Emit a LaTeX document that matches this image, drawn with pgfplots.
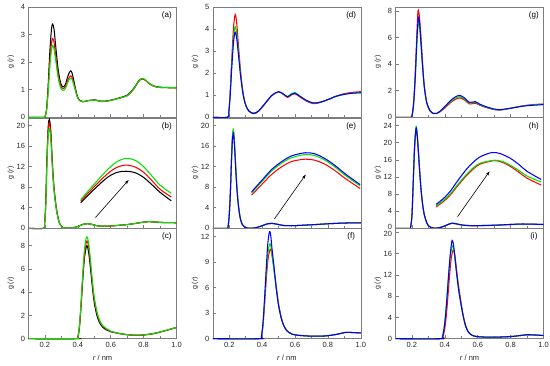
\documentclass[border=0pt]{standalone}
\usepackage{fontspec}
\setmainfont{Liberation Sans}
\usepackage{pgfplots}
\pgfplotsset{compat=1.18}
\usetikzlibrary{arrows.meta}
\definecolor{cgreen}{RGB}{0,225,0}
\definecolor{cred}{RGB}{255,0,0}
\definecolor{cblue}{RGB}{0,0,255}
\definecolor{axgray}{RGB}{125,125,125}
\tikzset{
 plab/.style={font=\fontsize{8}{9}\selectfont},
 arr/.style={-{Stealth[length=4.5pt,width=3pt]}, line width=0.6pt, black},
}
\pgfplotsset{
 panel/.style={
  scale only axis, width=148pt, height=110.5pt, anchor=south west,
  xmin=0.1, xmax=1.0, ymin=0,
  xtick={0.2,0.4,0.6,0.8,1.0}, minor xtick={0.1,0.3,0.5,0.7,0.9},
  xticklabels={},
  tick align=inside, xtick pos=bottom, ytick pos=left,
  major tick length=3.5pt, minor tick length=2.5pt,
  axis line style={axgray, line width=0.6pt},
  every tick/.style={axgray, line width=0.5pt},
  tick label style={font=\fontsize{7.5}{9}\selectfont, black!85, /pgf/number format/assume math mode=true},
  ylabel={g (\textit{r})},
  ylabel style={font=\fontsize{7}{8}\selectfont, black!85, at={(axis description cs:-0.12,0.5)}, anchor=center},
  clip=false,
  every axis plot/.append style={line width=1.05pt, smooth, mark=none},
 },
 bottomrow/.style={
  xticklabels={0.2,0.4,0.6,0.8,1.0},
  xlabel={\textit{r} / nm},
  xlabel style={font=\fontsize{7.5}{9}\selectfont, black!85, at={(axis description cs:0.5,-0.172)}, anchor=center},
 },
}
\begin{document}
\begin{tikzpicture}
\useasboundingbox (0,0) rectangle (550pt,365pt);
% ---------------- (a)
\begin{axis}[panel, at={(28.5pt,247.7pt)}, ymax=4, ytick={0,1,2,3,4}]
\addplot[black] coordinates {(0.1,0) (0.19,0) (0.2,0.02) (0.21,0.3) (0.22,1.2) (0.23,2.4) (0.24,3.2) (0.247,3.37) (0.255,3.2) (0.265,2.6) (0.28,1.75) (0.295,1.25) (0.31,1.1) (0.325,1.2) (0.34,1.5) (0.355,1.68) (0.365,1.6) (0.38,1.2) (0.395,0.8) (0.41,0.62) (0.43,0.57) (0.46,0.6) (0.5,0.63) (0.55,0.58) (0.6,0.62) (0.65,0.7) (0.7,0.8) (0.74,1.05) (0.77,1.32) (0.79,1.4) (0.81,1.35) (0.84,1.2) (0.87,1.12) (0.9,1.09) (0.95,1.08) (1.0,1.07)};
\addplot[cred] coordinates {(0.1,0) (0.19,0) (0.2,0.02) (0.21,0.28) (0.22,1.05) (0.23,2.05) (0.24,2.7) (0.247,2.85) (0.255,2.72) (0.265,2.25) (0.28,1.55) (0.295,1.15) (0.31,1.04) (0.325,1.12) (0.34,1.36) (0.355,1.5) (0.365,1.44) (0.38,1.12) (0.395,0.78) (0.41,0.61) (0.43,0.56) (0.46,0.6) (0.5,0.62) (0.55,0.57) (0.6,0.61) (0.65,0.69) (0.7,0.78) (0.74,1.02) (0.77,1.3) (0.79,1.38) (0.81,1.34) (0.84,1.19) (0.87,1.11) (0.9,1.08) (0.95,1.07) (1.0,1.06)};
\addplot[cgreen] coordinates {(0.1,0) (0.19,0) (0.2,0.02) (0.21,0.25) (0.22,0.95) (0.23,1.85) (0.24,2.45) (0.247,2.6) (0.255,2.48) (0.265,2.08) (0.28,1.45) (0.295,1.07) (0.31,0.97) (0.325,1.05) (0.34,1.28) (0.355,1.42) (0.365,1.37) (0.38,1.08) (0.395,0.76) (0.41,0.6) (0.43,0.56) (0.46,0.6) (0.5,0.62) (0.55,0.57) (0.6,0.61) (0.65,0.69) (0.7,0.78) (0.74,1.03) (0.77,1.31) (0.79,1.4) (0.81,1.36) (0.84,1.2) (0.87,1.11) (0.9,1.08) (0.95,1.07) (1.0,1.07)};
\node[plab] at (rel axis cs:0.935,0.925) {(a)};
\end{axis}
% ---------------- (b)
\begin{axis}[panel, at={(28.5pt,136.7pt)}, ymax=21.5, ytick={0,4,8,12,16,20}]
\addplot[black] coordinates {(0.1,0) (0.19,0) (0.198,1) (0.205,5) (0.212,13.5) (0.22,19.8) (0.227,21.2) (0.235,19.2) (0.244,13.5) (0.252,9.2) (0.26,6.4) (0.27,3.8) (0.283,1.6) (0.295,0.6) (0.31,0.15) (0.33,0.02) (0.36,0.05) (0.4,0.35) (0.43,0.75) (0.46,0.9) (0.49,0.72) (0.52,0.48) (0.56,0.4) (0.6,0.45) (0.65,0.58) (0.7,0.72) (0.75,0.95) (0.8,1.2) (0.83,1.3) (0.87,1.22) (0.92,1.12) (1.0,1.08)};
\addplot[cred] coordinates {(0.1,0) (0.19,0) (0.198,0.95) (0.205,4.8) (0.212,13.0) (0.22,19.1) (0.227,20.5) (0.235,18.6) (0.244,13.1) (0.252,8.9) (0.26,6.2) (0.27,3.7) (0.283,1.55) (0.295,0.58) (0.31,0.15) (0.33,0.02) (0.36,0.05) (0.4,0.35) (0.43,0.75) (0.46,0.9) (0.49,0.72) (0.52,0.48) (0.56,0.4) (0.6,0.45) (0.65,0.58) (0.7,0.72) (0.75,0.95) (0.8,1.2) (0.83,1.3) (0.87,1.22) (0.92,1.12) (1.0,1.08)};
\addplot[cgreen] coordinates {(0.1,0) (0.19,0) (0.198,0.9) (0.205,4.6) (0.212,12.4) (0.22,18.2) (0.227,19.4) (0.235,17.6) (0.244,12.4) (0.252,8.5) (0.26,5.9) (0.27,3.5) (0.283,1.5) (0.295,0.56) (0.31,0.15) (0.33,0.02) (0.36,0.05) (0.4,0.35) (0.43,0.75) (0.46,0.9) (0.49,0.72) (0.52,0.48) (0.56,0.4) (0.6,0.45) (0.65,0.58) (0.7,0.72) (0.75,0.95) (0.8,1.2) (0.83,1.3) (0.87,1.22) (0.92,1.12) (1.0,1.08)};
% inset (magnified second peak)
\addplot[black] coordinates {(0.418,5.0) (0.5,7.6) (0.58,9.9) (0.64,10.9) (0.695,11.1) (0.75,10.8) (0.8,9.9) (0.85,8.5) (0.9,7.0) (0.968,5.35)};
\addplot[cred] coordinates {(0.418,5.35) (0.5,8.1) (0.58,10.6) (0.64,11.9) (0.695,12.3) (0.75,11.9) (0.8,10.9) (0.85,9.3) (0.9,7.6) (0.968,6.1)};
\addplot[cgreen] coordinates {(0.418,5.6) (0.5,8.6) (0.58,11.4) (0.64,13.0) (0.695,13.6) (0.75,13.2) (0.8,12.0) (0.85,10.2) (0.9,8.4) (0.968,6.8)};
\draw[arr] (axis cs:0.507,2.1) -- (axis cs:0.709,9.4);
\node[plab] at (rel axis cs:0.935,0.925) {(b)};
\end{axis}
% ---------------- (c)
\begin{axis}[panel, bottomrow, at={(28.5pt,26.3pt)}, ymax=9.5, ytick={0,2,4,6,8}]
\addplot[black] coordinates {(0.1,0) (0.39,0) (0.4,0.1) (0.41,1.0) (0.42,2.9) (0.43,5.1) (0.44,6.9) (0.45,7.8) (0.456,8.0) (0.465,7.5) (0.475,6.3) (0.485,4.9) (0.495,3.6) (0.505,2.7) (0.52,1.8) (0.535,1.3) (0.55,1.0) (0.575,0.75) (0.6,0.6) (0.65,0.45) (0.7,0.35) (0.77,0.3) (0.85,0.42) (0.92,0.65) (1.0,0.97)};
\addplot[cred] coordinates {(0.1,0) (0.39,0) (0.4,0.1) (0.41,1.1) (0.42,3.0) (0.43,5.3) (0.44,7.2) (0.45,8.2) (0.456,8.4) (0.465,8.0) (0.475,6.8) (0.485,5.3) (0.495,3.9) (0.505,3.0) (0.52,2.0) (0.535,1.45) (0.55,1.1) (0.575,0.82) (0.6,0.63) (0.65,0.45) (0.7,0.34) (0.77,0.28) (0.85,0.4) (0.92,0.64) (1.0,0.97)};
\addplot[cgreen] coordinates {(0.1,0) (0.39,0) (0.4,0.1) (0.41,1.2) (0.42,3.2) (0.43,5.6) (0.44,7.6) (0.45,8.6) (0.456,8.75) (0.465,8.3) (0.475,7.0) (0.485,5.5) (0.495,4.1) (0.505,3.1) (0.52,2.1) (0.535,1.5) (0.55,1.15) (0.575,0.85) (0.6,0.65) (0.65,0.46) (0.7,0.35) (0.77,0.3) (0.85,0.42) (0.92,0.65) (1.0,0.97)};
\node[plab] at (rel axis cs:0.935,0.925) {(c)};
\end{axis}
% ---------------- (d)
\begin{axis}[panel, at={(212.8pt,247.7pt)}, ymax=5, ytick={0,1,2,3,4,5}]
\addplot[cred] coordinates {(0.1,0) (0.19,0) (0.197,0.22) (0.205,1.05) (0.215,2.6) (0.225,3.95) (0.232,4.5) (0.237,4.65) (0.245,4.3) (0.255,3.35) (0.27,2.0) (0.285,1.08) (0.3,0.57) (0.32,0.27) (0.35,0.16) (0.38,0.28) (0.42,0.63) (0.46,0.98) (0.5,1.15) (0.53,1.03) (0.555,0.9) (0.58,1.03) (0.6,1.07) (0.63,0.92) (0.67,0.73) (0.71,0.62) (0.75,0.66) (0.8,0.8) (0.85,0.96) (0.9,1.07) (0.95,1.13) (1.0,1.16)};
\addplot[cgreen] coordinates {(0.1,0) (0.19,0) (0.197,0.2) (0.205,0.95) (0.215,2.35) (0.225,3.5) (0.232,4.0) (0.237,4.1) (0.245,3.82) (0.255,3.05) (0.27,1.88) (0.285,1.03) (0.3,0.56) (0.32,0.28) (0.35,0.18) (0.38,0.3) (0.42,0.65) (0.46,1.0) (0.5,1.16) (0.53,1.05) (0.555,0.94) (0.58,1.08) (0.6,1.12) (0.63,0.96) (0.67,0.76) (0.71,0.65) (0.75,0.68) (0.8,0.8) (0.85,0.95) (0.9,1.04) (0.95,1.09) (1.0,1.11)};
\addplot[cblue] coordinates {(0.1,0) (0.19,0) (0.197,0.2) (0.205,0.9) (0.215,2.2) (0.225,3.3) (0.232,3.75) (0.237,3.85) (0.245,3.6) (0.255,2.9) (0.27,1.8) (0.285,1.0) (0.3,0.55) (0.32,0.28) (0.35,0.18) (0.38,0.3) (0.42,0.65) (0.46,1.0) (0.5,1.16) (0.53,1.05) (0.555,0.93) (0.58,1.05) (0.6,1.09) (0.63,0.95) (0.67,0.76) (0.71,0.65) (0.75,0.68) (0.8,0.8) (0.85,0.95) (0.9,1.04) (0.95,1.09) (1.0,1.11)};
\node[plab] at (rel axis cs:0.935,0.925) {(d)};
\end{axis}
% ---------------- (e)
\begin{axis}[panel, at={(212.8pt,136.7pt)}, ymax=21.5, ytick={0,4,8,12,16,20}]
\addplot[cred] coordinates {(0.1,0) (0.185,0) (0.193,0.4) (0.2,2.6) (0.207,7.2) (0.213,12.8) (0.219,17.5) (0.225,19.0) (0.231,17.0) (0.237,13.4) (0.243,9.8) (0.25,6.5) (0.258,3.9) (0.268,1.85) (0.28,0.72) (0.295,0.2) (0.32,0.02) (0.36,0.1) (0.4,0.5) (0.43,0.85) (0.46,0.95) (0.49,0.8) (0.53,0.55) (0.58,0.5) (0.65,0.6) (0.72,0.72) (0.8,0.88) (0.88,1.0) (0.94,1.05) (1.0,1.05)};
\addplot[cgreen] coordinates {(0.1,0) (0.185,0) (0.193,0.4) (0.2,2.6) (0.207,7.3) (0.213,13.0) (0.219,17.7) (0.225,19.2) (0.231,17.2) (0.237,13.5) (0.243,9.9) (0.25,6.5) (0.258,3.9) (0.268,1.85) (0.28,0.72) (0.295,0.2) (0.32,0.02) (0.36,0.1) (0.4,0.5) (0.43,0.85) (0.46,0.95) (0.49,0.8) (0.53,0.55) (0.58,0.5) (0.65,0.6) (0.72,0.72) (0.8,0.88) (0.88,1.0) (0.94,1.05) (1.0,1.05)};
\addplot[cblue] coordinates {(0.1,0) (0.185,0) (0.193,0.4) (0.2,2.5) (0.207,7) (0.213,12.5) (0.219,17) (0.225,18.5) (0.231,16.5) (0.237,13) (0.243,9.5) (0.25,6.3) (0.258,3.8) (0.268,1.8) (0.28,0.7) (0.295,0.2) (0.32,0.02) (0.36,0.1) (0.4,0.5) (0.43,0.85) (0.46,0.95) (0.49,0.8) (0.53,0.55) (0.58,0.5) (0.65,0.6) (0.72,0.72) (0.8,0.88) (0.88,1.0) (0.94,1.05) (1.0,1.05)};
% inset
\addplot[cred] coordinates {(0.336,6.45) (0.4,8.6) (0.46,10.55) (0.52,12.0) (0.58,13.0) (0.661,13.45) (0.72,13.25) (0.78,12.5) (0.84,11.3) (0.905,9.7) (0.996,7.75)};
\addplot[cgreen] coordinates {(0.336,6.9) (0.4,9.15) (0.46,11.2) (0.52,12.7) (0.58,13.75) (0.661,14.35) (0.72,14.15) (0.78,13.3) (0.84,12.0) (0.905,10.3) (0.996,8.25)};
\addplot[cblue] coordinates {(0.336,7.1) (0.4,9.4) (0.46,11.5) (0.52,13.0) (0.58,14.1) (0.661,14.7) (0.72,14.5) (0.78,13.6) (0.84,12.3) (0.905,10.6) (0.996,8.5)};
\draw[arr] (axis cs:0.474,1.8) -- (axis cs:0.665,10.45);
\node[plab] at (rel axis cs:0.935,0.925) {(e)};
\end{axis}
% ---------------- (f)
\begin{axis}[panel, bottomrow, at={(212.8pt,26.3pt)}, ymax=13, ytick={0,3,6,9,12}]
\addplot[cred] coordinates {(0.1,0) (0.385,0) (0.395,0.15) (0.405,1.5) (0.415,4.0) (0.425,6.9) (0.435,9.2) (0.445,10.3) (0.452,10.5) (0.46,9.8) (0.47,8.5) (0.48,7.0) (0.49,5.5) (0.5,4.1) (0.515,2.6) (0.53,1.65) (0.55,0.95) (0.58,0.55) (0.62,0.4) (0.7,0.3) (0.78,0.32) (0.85,0.5) (0.91,0.75) (0.95,0.72) (1.0,0.68)};
\addplot[cgreen] coordinates {(0.1,0) (0.385,0) (0.395,0.2) (0.405,1.7) (0.415,4.5) (0.425,7.6) (0.435,10.0) (0.445,11.1) (0.452,11.0) (0.46,9.9) (0.47,8.4) (0.48,6.8) (0.49,5.2) (0.5,3.9) (0.515,2.5) (0.53,1.6) (0.55,0.95) (0.58,0.55) (0.62,0.4) (0.7,0.3) (0.78,0.32) (0.85,0.5) (0.91,0.75) (0.95,0.72) (1.0,0.68)};
\addplot[cblue] coordinates {(0.1,0) (0.385,0) (0.395,0.2) (0.405,1.8) (0.415,4.8) (0.425,8.3) (0.435,11.3) (0.445,12.6) (0.452,12.2) (0.46,10.6) (0.47,8.9) (0.48,7.0) (0.49,5.3) (0.5,3.9) (0.515,2.5) (0.53,1.6) (0.55,0.95) (0.58,0.55) (0.62,0.4) (0.7,0.3) (0.78,0.32) (0.85,0.5) (0.91,0.75) (0.95,0.72) (1.0,0.68)};
\node[plab] at (rel axis cs:0.935,0.925) {(f)};
\end{axis}
% ---------------- (g)
\begin{axis}[panel, at={(395.5pt,247.7pt)}, ymax=8.3, ytick={0,2,4,6,8}]
\addplot[cred] coordinates {(0.1,0) (0.19,0) (0.2,0.1) (0.21,1.1) (0.22,3.3) (0.23,6.3) (0.237,8.0) (0.245,7.6) (0.255,6.0) (0.265,4.0) (0.275,2.4) (0.29,1.1) (0.31,0.48) (0.33,0.28) (0.35,0.28) (0.37,0.4) (0.4,0.7) (0.43,1.05) (0.46,1.32) (0.49,1.45) (0.52,1.3) (0.55,1.0) (0.585,1.06) (0.61,0.92) (0.65,0.74) (0.7,0.58) (0.74,0.55) (0.8,0.68) (0.87,0.85) (0.93,0.95) (1.0,1.0)};
\addplot[cgreen] coordinates {(0.1,0) (0.19,0) (0.2,0.1) (0.21,0.95) (0.22,2.8) (0.23,5.5) (0.239,7.1) (0.247,6.7) (0.255,5.4) (0.265,3.7) (0.275,2.25) (0.29,1.1) (0.31,0.5) (0.33,0.3) (0.35,0.3) (0.37,0.43) (0.4,0.76) (0.43,1.13) (0.46,1.42) (0.49,1.55) (0.52,1.38) (0.55,1.07) (0.585,1.13) (0.61,0.96) (0.65,0.77) (0.7,0.6) (0.74,0.56) (0.8,0.68) (0.87,0.84) (0.93,0.93) (1.0,0.98)};
\addplot[cblue] coordinates {(0.1,0) (0.19,0) (0.2,0.1) (0.21,1.0) (0.22,3.0) (0.23,5.8) (0.239,7.5) (0.247,7.0) (0.255,5.6) (0.265,3.8) (0.275,2.3) (0.29,1.1) (0.31,0.5) (0.33,0.3) (0.35,0.3) (0.37,0.45) (0.4,0.8) (0.43,1.2) (0.46,1.5) (0.49,1.65) (0.52,1.45) (0.55,1.12) (0.585,1.18) (0.61,1.0) (0.65,0.8) (0.7,0.62) (0.74,0.58) (0.8,0.68) (0.87,0.83) (0.93,0.9) (1.0,0.95)};
\node[plab] at (rel axis cs:0.935,0.925) {(g)};
\end{axis}
% ---------------- (h)
\begin{axis}[panel, at={(395.5pt,136.7pt)}, ymax=25.8, ytick={4,8,12,16,20,24},
  extra y ticks={0}, extra y tick style={yticklabel style={yshift=1.5pt}}]
\addplot[cred] coordinates {(0.1,0) (0.185,0) (0.192,0.3) (0.2,2.9) (0.208,10.6) (0.216,18.6) (0.225,23.0) (0.232,21.4) (0.24,17.2) (0.248,12.6) (0.256,8.7) (0.265,5.5) (0.275,3.2) (0.288,1.5) (0.3,0.6) (0.315,0.2) (0.335,0.05) (0.36,0.1) (0.39,0.4) (0.42,0.9) (0.445,1.15) (0.47,1.0) (0.51,0.72) (0.56,0.6) (0.63,0.62) (0.72,0.72) (0.8,0.88) (0.87,0.98) (0.93,0.95) (1.0,0.88)};
\addplot[cgreen] coordinates {(0.1,0) (0.185,0) (0.192,0.3) (0.2,3.1) (0.208,11.2) (0.216,19.3) (0.225,23.8) (0.232,22.1) (0.24,17.7) (0.248,12.9) (0.256,8.8) (0.265,5.6) (0.275,3.2) (0.288,1.5) (0.3,0.6) (0.315,0.2) (0.335,0.05) (0.36,0.1) (0.39,0.4) (0.42,0.9) (0.445,1.2) (0.47,1.05) (0.51,0.75) (0.56,0.62) (0.63,0.65) (0.72,0.75) (0.8,0.9) (0.87,1.0) (0.93,0.97) (1.0,0.9)};
\addplot[cblue] coordinates {(0.1,0) (0.185,0) (0.192,0.3) (0.2,3) (0.208,11) (0.216,19) (0.225,23.4) (0.232,21.8) (0.24,17.5) (0.248,12.8) (0.256,8.8) (0.265,5.6) (0.275,3.2) (0.288,1.5) (0.3,0.6) (0.315,0.2) (0.335,0.05) (0.36,0.1) (0.39,0.4) (0.42,0.9) (0.445,1.2) (0.47,1.05) (0.51,0.75) (0.56,0.62) (0.63,0.65) (0.72,0.75) (0.8,0.9) (0.87,1.0) (0.93,0.97) (1.0,0.9)};
% inset
\addplot[cred] coordinates {(0.347,5.0) (0.39,6.2) (0.432,7.7) (0.48,10.0) (0.534,12.4) (0.575,13.9) (0.615,15.0) (0.7,15.8) (0.75,15.4) (0.8,14.4) (0.85,13.1) (0.9,11.7) (0.986,10.1)};
\addplot[cgreen] coordinates {(0.347,5.3) (0.39,6.5) (0.432,8.0) (0.48,10.3) (0.534,12.7) (0.575,14.2) (0.615,15.2) (0.7,15.9) (0.75,15.6) (0.8,14.7) (0.85,13.5) (0.9,12.2) (0.986,10.8)};
\addplot[cblue] coordinates {(0.347,5.6) (0.39,6.9) (0.432,8.6) (0.48,11.2) (0.534,13.9) (0.575,15.5) (0.615,16.7) (0.687,17.7) (0.74,17.4) (0.8,16.3) (0.85,14.9) (0.9,13.3) (0.986,11.4)};
\draw[arr] (axis cs:0.477,2.7) -- (axis cs:0.672,13.3);
\node[plab] at (rel axis cs:0.935,0.925) {(h)};
\end{axis}
% ---------------- (i)
\begin{axis}[panel, bottomrow, at={(395.5pt,26.3pt)}, ymax=20.8, ytick={0,4,8,12,16},
  extra y ticks={20}, extra y tick style={yticklabel style={yshift=-1.5pt}}]
\addplot[cred] coordinates {(0.1,0) (0.378,0) (0.388,0.3) (0.398,1.6) (0.408,4.0) (0.418,7.6) (0.428,11.6) (0.438,14.9) (0.45,16.7) (0.458,16.2) (0.466,14.4) (0.475,12.0) (0.485,9.6) (0.495,7.6) (0.505,5.6) (0.515,3.9) (0.53,2.2) (0.545,1.2) (0.565,0.65) (0.59,0.42) (0.65,0.3) (0.72,0.3) (0.8,0.4) (0.86,0.6) (0.9,0.72) (0.95,0.68) (1.0,0.58)};
\addplot[cgreen] coordinates {(0.1,0) (0.374,0) (0.384,0.3) (0.394,1.8) (0.404,4.5) (0.414,8.4) (0.424,12.4) (0.434,15.7) (0.446,17.5) (0.454,16.9) (0.462,14.9) (0.472,12.1) (0.482,9.6) (0.492,7.6) (0.502,5.8) (0.512,4.2) (0.527,2.3) (0.542,1.3) (0.56,0.72) (0.59,0.42) (0.65,0.3) (0.72,0.3) (0.8,0.4) (0.86,0.6) (0.9,0.75) (0.95,0.7) (1.0,0.6)};
\addplot[cblue] coordinates {(0.1,0) (0.375,0) (0.385,0.3) (0.395,1.8) (0.405,4.5) (0.415,8.5) (0.425,12.8) (0.435,16.5) (0.444,18.5) (0.452,17.8) (0.46,15.8) (0.47,12.8) (0.48,10.2) (0.49,8.0) (0.5,6.2) (0.51,4.5) (0.525,2.5) (0.54,1.4) (0.56,0.75) (0.59,0.42) (0.65,0.3) (0.72,0.3) (0.8,0.4) (0.86,0.6) (0.9,0.75) (0.95,0.7) (1.0,0.6)};
\node[plab] at (rel axis cs:0.935,0.925) {(i)};
\end{axis}
\end{tikzpicture}
\end{document}
